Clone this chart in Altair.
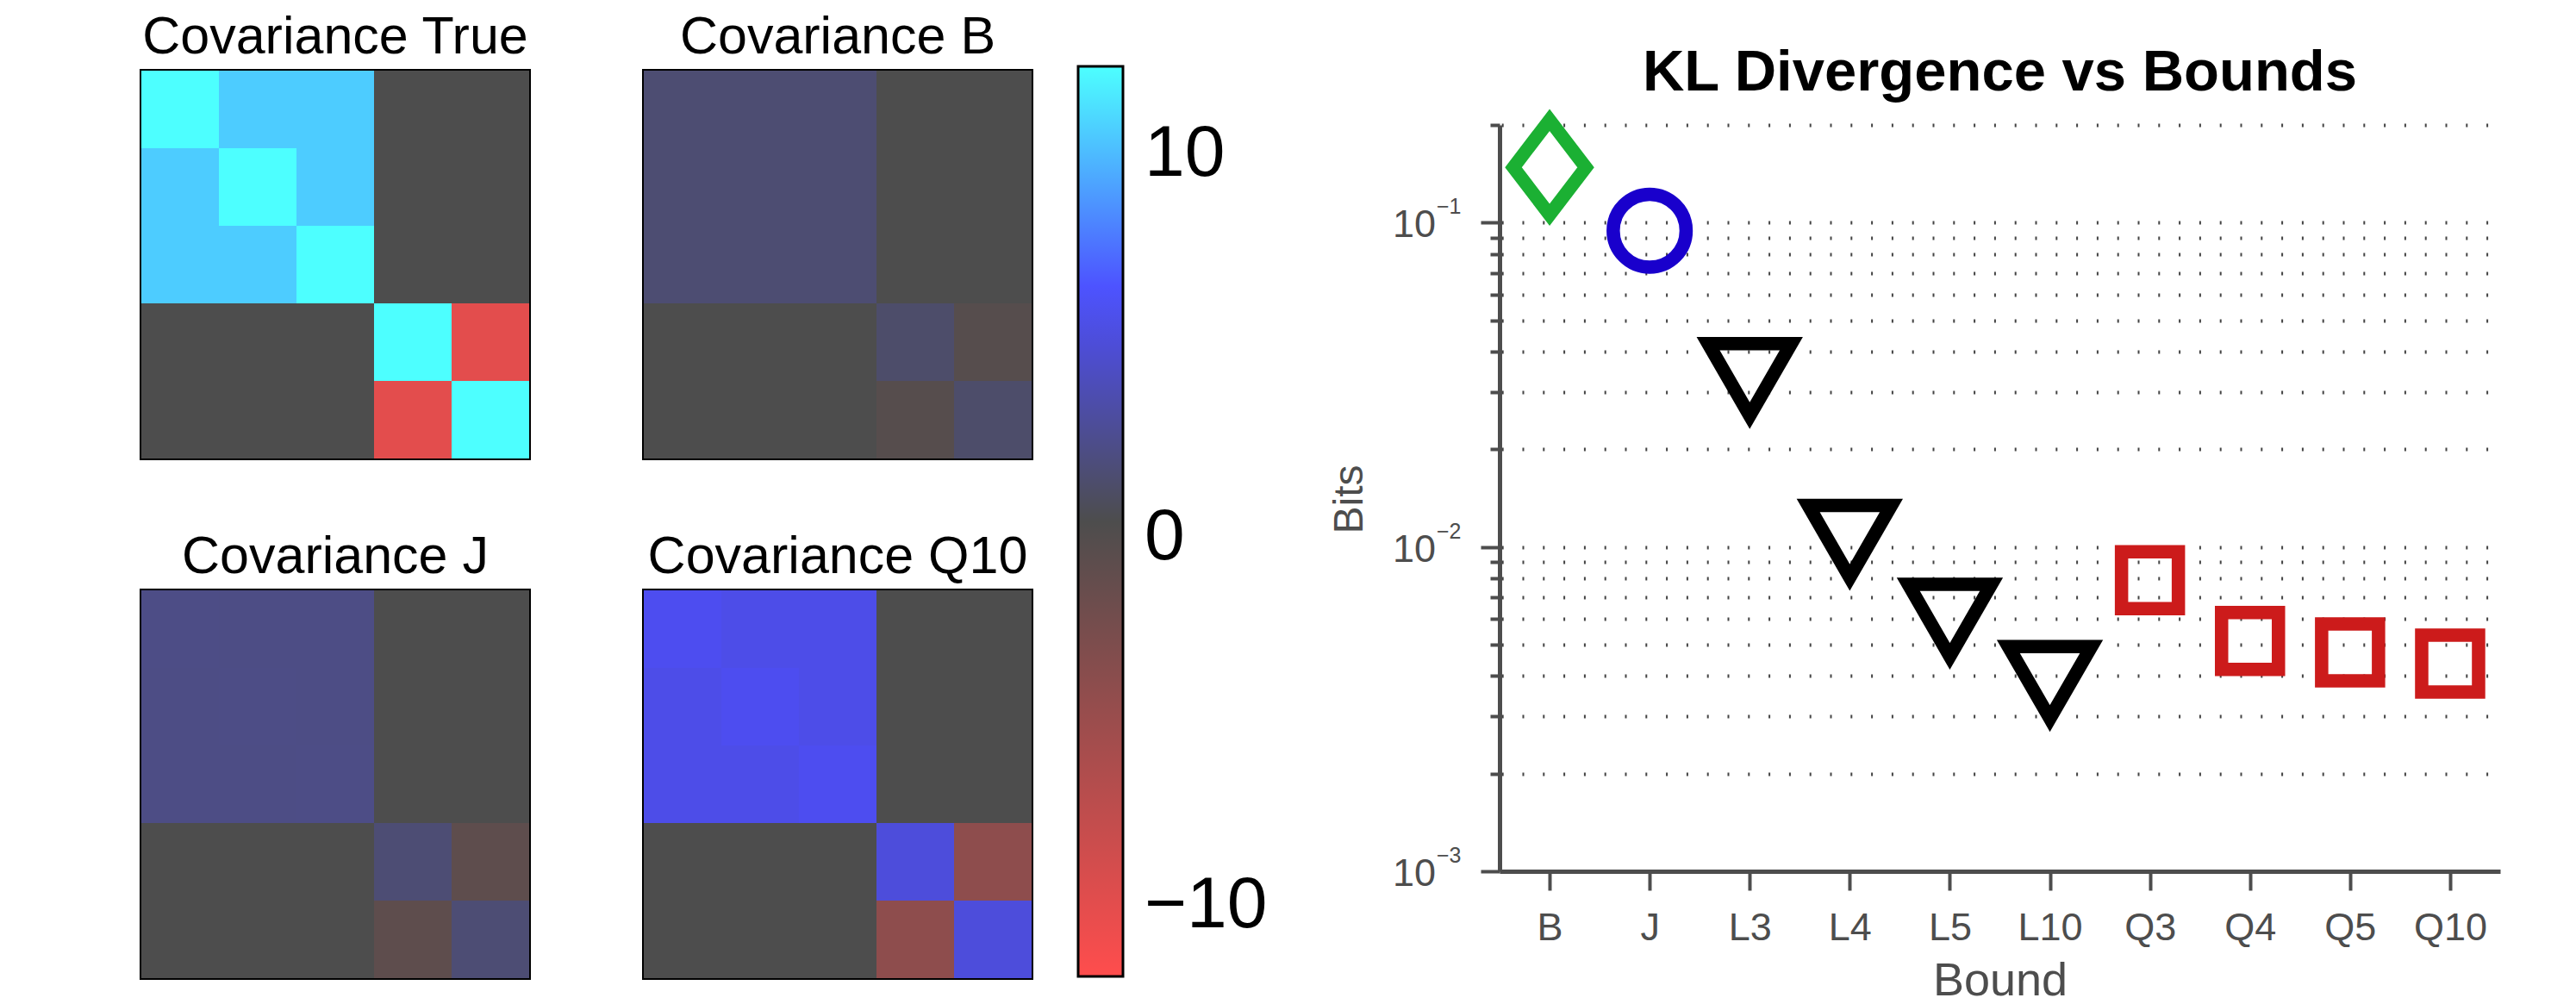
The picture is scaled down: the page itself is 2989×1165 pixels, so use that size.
import altair as alt
import pandas as pd

# ---------------- data ----------------
bounds = ['B', 'J', 'L3', 'L4', 'L5', 'L10', 'Q3', 'Q4', 'Q5', 'Q10']
kl_bits = [0.148, 0.0944, 0.0328, 0.0104, 0.00594, 0.00382, 0.00790, 0.00513, 0.00473, 0.00437]
families = ['B', 'J', 'L', 'L', 'L', 'L', 'Q', 'Q', 'Q', 'Q']

ytick_values = [0.001, 0.002, 0.003, 0.004, 0.005, 0.006, 0.007, 0.008, 0.009,
                0.01, 0.02, 0.03, 0.04, 0.05, 0.06, 0.07, 0.08, 0.09, 0.1, 0.2]
ymajor_values = [0.1, 0.01, 0.001]
ymajor_base = ['10', '10', '10']
ymajor_exp = ['\u22121', '\u22122', '\u22123']

cov_true = [[15.5, 13.3, 13.3, 0, 0],
            [13.3, 15.5, 13.3, 0, 0],
            [13.3, 13.3, 15.5, 0, 0],
            [0, 0, 0, 15.5, -13.1],
            [0, 0, 0, -13.1, 15.5]]
cov_b = [[1.6, 1.6, 1.6, 0, 0],
         [1.6, 1.6, 1.6, 0, 0],
         [1.6, 1.6, 1.6, 0, 0],
         [0, 0, 0, 1.25, -0.8],
         [0, 0, 0, -0.8, 1.25]]
cov_j = [[2.5, 2.45, 2.45, 0, 0],
         [2.45, 2.5, 2.45, 0, 0],
         [2.45, 2.45, 2.5, 0, 0],
         [0, 0, 0, 1.7, -1.5],
         [0, 0, 0, -1.5, 1.7]]
cov_q10 = [[7.1, 6.75, 6.75, 0, 0],
           [6.75, 7.1, 6.75, 0, 0],
           [6.75, 6.75, 7.1, 0, 0],
           [0, 0, 0, 6.2, -5.7],
           [0, 0, 0, -5.7, 6.2]]

colorbar_domain = [-15.5, 0, 7.75, 15.5]
colorbar_colors = ['#ff4d4d', '#4d4d4d', '#4d4dff', '#4dffff']
colorbar_label_values = [12.5, -0.55, -13.1]
colorbar_label_text = ['10', '0', '\u221210']

FONT = 'Liberation Sans'

# ---------------- heatmaps ----------------
label_expr = "''"
for v, t in zip(colorbar_label_values, colorbar_label_text):
    label_expr = f"datum.value == {v} ? '{t}' : ({label_expr})"

color_scale = alt.Scale(domain=colorbar_domain, range=colorbar_colors, interpolate='rgb')
legend = alt.Legend(orient='none', legendX=1087, legendY=-5, direction='vertical',
                    gradientLength=1056, gradientThickness=52,
                    gradientStrokeColor='black', gradientStrokeWidth=3,
                    values=colorbar_label_values, labelExpr=label_expr,
                    labelFontSize=84, labelFont=FONT, labelColor='black',
                    labelOffset=25, labelOverlap=False, labelLimit=400, title=None)


def heat(mat, title, first=False):
    rows = [{'r': i, 'c': j, 'v': mat[i][j]} for i in range(5) for j in range(5)]
    df = pd.DataFrame(rows)
    return alt.Chart(df).mark_rect().encode(
        x=alt.X('c:O', axis=None, scale=alt.Scale(paddingInner=0, paddingOuter=0)),
        y=alt.Y('r:O', axis=None, scale=alt.Scale(paddingInner=0, paddingOuter=0)),
        color=alt.Color('v:Q', scale=color_scale, legend=legend if first else None),
    ).properties(
        width=450, height=450,
        title=alt.TitleParams(title, fontSize=61, font=FONT, fontWeight='normal',
                              color='black', baseline='alphabetic', offset=-41),
        view=alt.ViewBackground(stroke='black', strokeWidth=4),
    )


h1 = heat(cov_true, 'Covariance True', first=True)
h2 = heat(cov_b, 'Covariance B')
h3 = heat(cov_j, 'Covariance J')
h4 = heat(cov_q10, 'Covariance Q10')

# with flush bounds nested groups count as zero-size: spacing = offset between origins
row1 = alt.hconcat(h1, h2, spacing=133, bounds='flush')
row2 = alt.hconcat(h3, h4, spacing=133, bounds='flush')
left = alt.vconcat(row1, row2, spacing=603, bounds='flush')

# ---------------- scatter ----------------
df = pd.DataFrame({'bound': bounds, 'kl': kl_bits, 'family': families})

major_test = "abs(log(datum.value)/LN10 - round(log(datum.value)/LN10)) < 0.001"
yscale = alt.Scale(type='log', domain=[0.001, 0.2], nice=False)
y_axis = alt.Axis(values=ytick_values, labels=False,
                  tickSize={'condition': {'test': major_test, 'value': 22}, 'value': 11},
                  tickWidth=4, tickColor='#4d4d4d', domainColor='#4d4d4d', domainWidth=5,
                  grid=True, gridDash=[2, 21.8], gridDashOffset=21.6, gridWidth=4,
                  gridColor='#444444',
                  title='Bits', titleFont=FONT, titleFontSize=48, titleFontWeight='normal',
                  titleColor='#4d4d4d', titleX=-160, titleY=434, titleAngle=270,
                  titleBaseline='alphabetic', titleAlign='center')
x_axis = alt.Axis(title='Bound', labelAngle=0, labelFont=FONT, labelFontSize=45,
                  labelColor='#4d4d4d', labelPadding=21, tickSize=22, tickWidth=4,
                  tickColor='#4d4d4d', domainColor='#4d4d4d', domainWidth=5, grid=False,
                  titleFont=FONT, titleFontSize=54, titleFontWeight='normal',
                  titleColor='#4d4d4d', titleY=143, titleBaseline='alphabetic')
xenc = alt.X('bound:N', scale=alt.Scale(domain=bounds, type='point', padding=0.5), axis=x_axis)
yenc = alt.Y('kl:Q', scale=yscale, axis=y_axis)

diamond = 'M-1,0L0,-1.31L1,0L0,1.31Z'
marker_styles = [
    ('B', diamond, 7056, '#1bb033'),
    ('J', 'circle', 7157, '#1900cc'),
    ('L', 'triangle-down', 9312, '#000000'),
    ('Q', 'square', 4356, '#cc1b1b'),
]
layers = []
for fam, shape, size, col in marker_styles:
    layers.append(
        alt.Chart(df).transform_filter(alt.datum.family == fam).mark_point(
            shape=shape, size=size, filled=False, color=col, strokeWidth=15.5,
            opacity=1, strokeJoin='miter'
        ).encode(x=xenc, y=yenc)
    )

df_base = pd.DataFrame({'kl': ymajor_values, 'txt': ymajor_base})
df_exp = pd.DataFrame({'kl': ymajor_values, 'txt': ymajor_exp})
txt_base = alt.Chart(df_base).mark_text(
    align='right', baseline='middle', fontSize=45, font=FONT, color='#4d4d4d', dy=3
).encode(x=alt.value(-74), y=yenc, text='txt:N')
txt_exp = alt.Chart(df_exp).mark_text(
    align='left', baseline='alphabetic', fontSize=25, font=FONT, color='#4d4d4d', dy=-10
).encode(x=alt.value(-73), y=yenc, text='txt:N')

scatter = alt.layer(*layers, txt_base, txt_exp).properties(
    width=1161, height=866,
    title=alt.TitleParams('KL Divergence vs Bounds', fontSize=67, font=FONT,
                          fontWeight='bold', color='black', baseline='alphabetic', offset=-64),
)

spacer = alt.Chart(pd.DataFrame({'s': [0]})).mark_point(opacity=0).encode(
    x=alt.value(0), y=alt.value(0)
).properties(width=1161, height=63)

right = alt.vconcat(spacer, scatter, spacing=0, bounds='flush')

chart = alt.hconcat(left, right, spacing=1576, bounds='flush').properties(
    padding={'left': 154, 'top': 3, 'right': 0, 'bottom': 0}
).configure(font=FONT).configure_view(stroke=None)

chart.save('out.html', embed_options={'renderer': 'svg', 'actions': False})
